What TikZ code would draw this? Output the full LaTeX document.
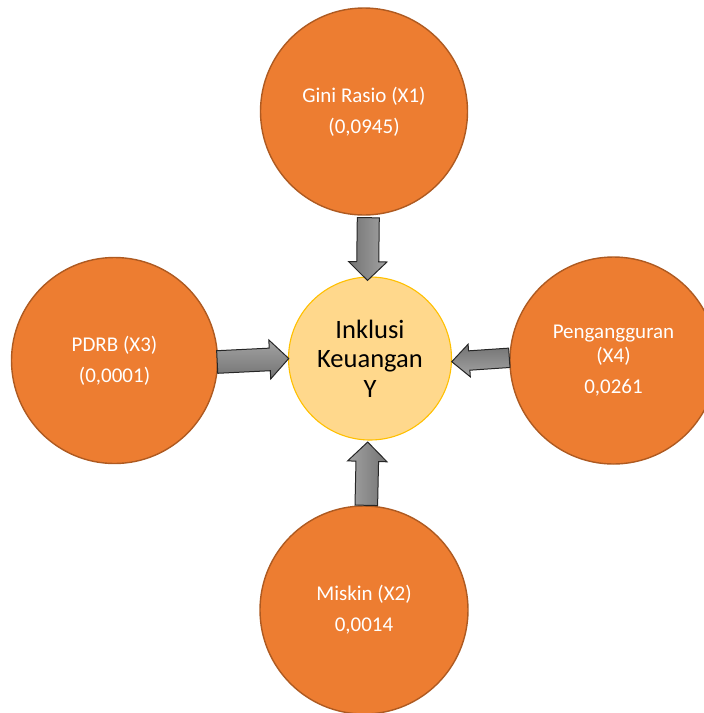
\documentclass[tikz,border=0pt]{standalone}
\usepackage{fontspec}
\setmainfont{Carlito}
\usetikzlibrary{calc}
\definecolor{orfill}{HTML}{ED7D31}
\definecolor{ordraw}{HTML}{AE5A21}
\definecolor{yfill}{HTML}{FFD88C}
\definecolor{ydraw}{HTML}{FFC000}
\definecolor{adark}{HTML}{737373}
\definecolor{alight}{HTML}{A3A3A3}
\definecolor{aline}{HTML}{262626}
\newcommand{\blockarr}[6]{%
  % #1 tail, #2 tip, #3 shaft half, #4 head half, #5 head length, #6 style
  \coordinate (hb) at ($(#2)!#5pt!(#1)$);
  \draw[arrowbox,#6]
    ($(#1)!#3pt!90:(#2)$) -- ($(hb)!#3pt!90:(#2)$) -- ($(hb)!#4pt!90:(#2)$) --
    (#2) -- ($(hb)!#4pt!-90:(#2)$) -- ($(hb)!#3pt!-90:(#2)$) -- ($(#1)!#3pt!-90:(#2)$) -- cycle;}
\begin{document}
\begin{tikzpicture}[x=1pt,y=-1pt,
  factor/.style={circle,draw=ordraw,fill=orfill,line width=1.4pt,inner sep=0pt,
    text=white,align=center,font=\fontsize{21}{24}\selectfont},
  target/.style={circle,draw=ydraw,fill=yfill,line width=1.1pt,inner sep=0pt,
    text=black,align=center,font=\fontsize{26.5}{29.5}\selectfont},
  arrowbox/.style={draw=aline,line width=1pt,line join=miter}]
\useasboundingbox (0,0) rectangle (704,713);
\clip (0,0) rectangle (704,713);
\node[factor,minimum size=207pt] (G) at (364,111.5) {Gini Rasio (X1)\\[7pt](0,0945)};
\node[factor,minimum size=206pt] (P) at (114.5,360.5) {PDRB (X3)\\[7pt](0,0001)};
\node[factor,minimum size=207pt] (U) at (613.5,360.5) {Pengangguran\\(X4)\\[7pt]0,0261};
\node[factor,minimum size=208pt] (M) at (364,610) {Miskin (X2)\\[7pt]0,0014};
\node[target,minimum size=163pt] (Y) at (370,358.5) {Inklusi\\Keuangan\\Y};
% arrows
\coordinate (gt) at ($(G.south)+(4.3,2)$);
\coordinate (gh) at ($(Y.north)+(-2.5,4)$);
\blockarr{gt}{gh}{11}{19.2}{18.7}{left color=adark,right color=alight}
\coordinate (pt) at ($(P.east)+(-1,1.5)$);
\coordinate (ph) at ($(Y.west)+(0.8,0)$);
\blockarr{pt}{ph}{11.3}{19.5}{19}{top color=alight,bottom color=adark}
\coordinate (ut) at ($(U.west)+(0,-2.7)$);
\coordinate (uh) at ($(Y.east)+(-0.3,3.2)$);
\blockarr{ut}{uh}{9.7}{16.3}{17.5}{top color=adark,bottom color=alight}
\coordinate (mt) at ($(M.north)+(2.3,0)$);
\coordinate (mh) at ($(Y.south)+(-2.3,1.5)$);
\blockarr{mt}{mh}{11.3}{19.7}{19.3}{left color=alight,right color=adark}
\end{tikzpicture}
\end{document}
